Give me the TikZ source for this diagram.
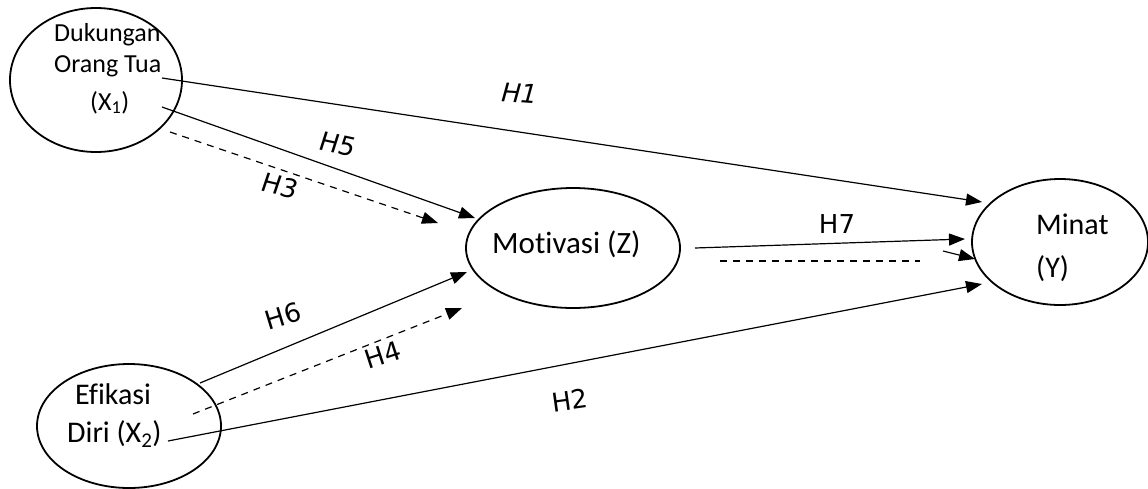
\documentclass[tikz,border=0pt]{standalone}
\usepackage{fontspec}
\setmainfont{Carlito}[Ligatures=NoCommon]
\newfontfamily\hfont{DejaVu Sans}
\usetikzlibrary{arrows.meta,shapes.geometric}
\begin{document}
\begin{tikzpicture}[x=1pt,y=-1pt,
  var/.style={draw, ellipse, line width=1.8pt, inner sep=0pt},
  lbl/.style={anchor=base west, inner sep=0pt},
  hyp/.style={font=\hfont\fontsize{26}{30}\selectfont, inner sep=0pt},
  arr/.style={line width=1.2pt, -{Triangle[length=16pt,width=12pt]}},
  darr/.style={arr, dash pattern=on 7pt off 6pt},
  dline/.style={line width=1.2pt, dash pattern=on 7pt off 6pt},
]
\useasboundingbox (0,0) rectangle (1148,488);
% ellipses
\node[var, minimum width=172pt, minimum height=144pt] (x1) at (96,80) {};
\node[var, minimum width=184pt, minimum height=124pt] (x2) at (129,426) {};
\node[var, minimum width=214pt, minimum height=120pt] (z) at (573,248) {};
\node[var, minimum width=176pt, minimum height=126pt] (y) at (1060,242) {};
% texts
\node[lbl, font=\fontsize{26}{30}\selectfont] (t1a) at (54,41) {Dukungan};
\node[lbl, font=\fontsize{26}{30}\selectfont] (t1b) at (54,72) {Orang Tua};
\node[lbl, font=\fontsize{26}{30}\selectfont] (t1c) at (90,110) {(X\textsubscript{1})};
\node[lbl, font=\fontsize{30}{36}\selectfont] (t2a) at (75,404) {Efikasi};
\node[lbl, font=\fontsize{30}{36}\selectfont] (t2b) at (67,442) {Diri (X\textsubscript{2})};
\node[lbl, font=\fontsize{31}{36}\selectfont] (tz) at (492,253) {Motivasi (Z)};
\node[lbl, font=\fontsize{30}{36}\selectfont] (tya) at (1036,234) {Minat};
\node[lbl, font=\fontsize{30}{36}\selectfont] (tyb) at (1036,277) {(Y)};
% connector ends
\coordinate (h1s) at (162,78);   \coordinate (h1e) at (982,202);
\coordinate (h5s) at (162,107);  \coordinate (h5e) at (475,218);
\coordinate (h3s) at (170,132);  \coordinate (h3e) at (438,223);
\coordinate (h6s) at (200,383);  \coordinate (h6e) at (467,272);
\coordinate (h4s) at (193,414);  \coordinate (h4e) at (462,308);
\coordinate (h2s) at (168,441);  \coordinate (h2e) at (982,284);
\coordinate (h7s) at (695,248);  \coordinate (h7e) at (965,239);
\coordinate (d7s) at (720,261);  \coordinate (d7e) at (920,261);
\coordinate (s7s) at (943,251);  \coordinate (s7e) at (975,259);
% connectors
\draw[arr] (h1s) -- (h1e);
\draw[arr] (h5s) -- (h5e);
\draw[darr] (h3s) -- (h3e);
\draw[arr] (h6s) -- (h6e);
\draw[darr] (h4s) -- (h4e);
\draw[arr] (h2s) -- (h2e);
\draw[arr] (h7s) -- (h7e);
\draw[dline] (d7s) -- (d7e);
\draw[arr] (s7s) -- (s7e);
% hypothesis labels
\node[hyp, rotate=-4, xslant=0.2] (l1) at (520,93) {H1};
\node[hyp, rotate=-12, xslant=0.1] (l5) at (338,144) {H5};
\node[hyp, rotate=-13, xslant=0.1] (l3) at (280,186) {H3};
\node[hyp, rotate=17] (l6) at (283,316) {H6};
\node[hyp, rotate=18] (l4) at (383,355) {H4};
\node[hyp, rotate=8] (l2) at (570,400) {H2};
\node[hyp] (l7) at (837,224) {H7};
\end{tikzpicture}
\end{document}
